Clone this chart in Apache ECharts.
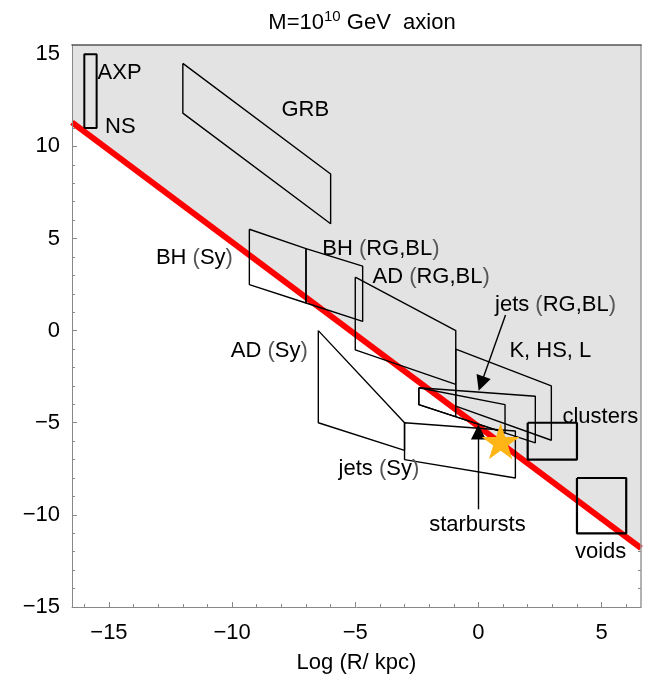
<!DOCTYPE html>
<html>
<head>
<meta charset="utf-8">
<script src="https://cdn.jsdelivr.net/npm/echarts@6/dist/echarts.min.js"></script>
<style>
  html, body { margin: 0; padding: 0; background: #fff; }
  #chart { width: 647px; height: 675px; }
</style>
</head>
<body>
<div id="chart"></div>
<script>
// Axis ranges and ticks
const xLimits = [-16.5, 6.6];
const yLimits = [-15, 15.5];
const xMajorTicks = [-15, -10, -5, 0, 5];
const xMinorTicks = [-16, -14, -13, -12, -11, -9, -8, -7, -6, -4, -3, -2, -1, 1, 2, 3, 4, 6];
const yMajorTicks = [-15, -10, -5, 0, 5, 10, 15];
const yMinorTicks = [-14, -13, -12, -11, -9, -8, -7, -6, -4, -3, -2, -1, 1, 2, 3, 4, 6, 7, 8, 9, 11, 12, 13, 14];

// Bound line: sources above it can accelerate the particles
const boundLine = [[-16.5, 11.3], [6.6, -11.8]];

// Source regions (log R, log B)
const axpNs = [[-16, 11], [-16, 15], [-15.5, 15], [-15.5, 11]];
const grb = [[-12, 14.5], [-6, 8.5], [-6, 5.8], [-12, 11.8]];
const bhSy = [[-9.3, 5.5], [-7, 4.45], [-7, 1.5], [-9.3, 2.5]];
const bhRgBl = [[-7, 4.45], [-4.7, 3.5], [-4.7, 0.5], [-7, 1.5]];
const adRgBl = [[-5, 2.9], [-0.92, 0], [-0.92, -4.65], [-0.92, -2.92], [-5, -1.05]];
const kHsL = [[-0.92, -1], [2.96, -3], [2.96, -5.95], [-0.92, -4.1]];
const jetsRgBlOuter = [[-2.42, -3.1], [2.31, -3.56], [2.31, -6.09], [-2.42, -4.02]];
const jetsRgBlInner = [[-2.42, -3.1], [1.08, -4.02], [1.08, -5.55], [-2.42, -4.02]];
const adSy = [[-6.5, 0], [-3, -5], [-3, -6.5], [-6.5, -5]];
const jetsSy = [[-3, -5], [1.5, -5.45], [1.5, -8], [-3, -7]];
const clusters = [[2, -5], [4, -5], [4, -7], [2, -7]];
const voids = [[4, -8], [6, -8], [6, -11], [4, -11]];

// Milky Way marker
const galaxy = [[0.9, -6]];

// Pointer arrows: [from, to]
const arrows = [
  [[0, -9.7], [0, -5.5]],
  [[1.1, 0.85], [0.11, -2.88]]
];

// Region names: [text, x, y]
const regionNames = [
  ['AXP', -14.57, 14.0],
  ['NS', -14.54, 11.05],
  ['GRB', -7.03, 12.0],
  ['BH (Sy)', -11.53, 3.96],
  ['BH (RG,BL)', -3.96, 4.43],
  ['AD (RG,BL)', -1.92, 2.93],
  ['jets (RG,BL)', 3.13, 1.37],
  ['K, HS, L', 2.92, -1.13],
  ['AD (Sy)', -8.49, -1.1],
  ['clusters', 4.95, -4.66],
  ['jets (Sy)', -4.04, -7.53],
  ['starbursts', -0.04, -10.55],
  ['voids', 4.96, -12.01]
];

const FONT = 'Liberation Sans, Arial, sans-serif';
const frameColor = '#888';
const minus = v => String(v).replace('-', '\u2212');

function closed(pts) {
  return pts.concat([pts[0]]);
}

function outline(pts, width) {
  return {
    type: 'line',
    data: closed(pts),
    symbol: 'none',
    silent: true,
    z: 4,
    lineStyle: { color: '#000', width: width || 1.4 },
    animation: false
  };
}

function parenRich(text) {
  return text.replace(/\(/g, '{p|(}').replace(/\)/g, '{p|)}');
}

const chart = echarts.init(document.getElementById('chart'), null, { renderer: 'canvas' });

const valueAxis = (extra) => Object.assign({
  type: 'value',
  min: 0, max: 0,
  splitLine: { show: false },
  axisLine: { show: false, onZero: false },
  axisTick: { show: false },
  axisLabel: { show: false }
}, extra);

const xAx = (extra) => valueAxis(Object.assign({ min: xLimits[0], max: xLimits[1] }, extra));
const yAx = (extra) => valueAxis(Object.assign({ min: yLimits[0], max: yLimits[1] }, extra));

const option = {
  animation: false,
  backgroundColor: '#fff',
  title: {
    text: 'M=10{s|10} GeV  axion',
    left: 357,
    top: 4,
    textAlign: 'center',
    textStyle: {
      fontFamily: FONT,
      fontSize: 22,
      fontWeight: 'normal',
      color: '#000',
      rich: {
        s: { fontFamily: FONT, fontSize: 15, color: '#000', padding: [0, 0, 12, 0] }
      }
    }
  },
  grid: { left: 72, right: 6, top: 45, bottom: 68, containLabel: false, outerBoundsMode: 'none' },
  xAxis: [
    xAx({
      position: 'bottom',
      axisTick: { show: true, inside: true, length: 5, customValues: xMajorTicks, lineStyle: { color: frameColor } },
      axisLabel: { show: true, customValues: xMajorTicks, formatter: minus, fontFamily: FONT, fontSize: 22, color: '#000', margin: 15 },
      name: 'Log (R/ kpc)',
      nameLocation: 'middle',
      nameGap: 45,
      nameTextStyle: { fontFamily: FONT, fontSize: 22, color: '#000' }
    }),
    xAx({
      position: 'bottom',
      axisTick: { show: true, inside: true, length: 3, customValues: xMinorTicks, lineStyle: { color: frameColor } }
    }),
    xAx({ position: 'bottom', z: 10, axisLine: { show: true, onZero: false, lineStyle: { color: frameColor, width: 1 } } }),
    xAx({ position: 'top', z: 10, axisLine: { show: true, onZero: false, lineStyle: { color: '#555', width: 1.5 } } })
  ],
  yAxis: [
    yAx({
      position: 'left',
      axisTick: { show: true, inside: true, length: 5, customValues: yMajorTicks, lineStyle: { color: frameColor } },
      axisLabel: { show: true, customValues: yMajorTicks, formatter: minus, fontFamily: FONT, fontSize: 22, color: '#000', margin: 12 }
    }),
    yAx({
      position: 'left',
      axisTick: { show: true, inside: true, length: 3, customValues: yMinorTicks, lineStyle: { color: frameColor } }
    }),
    yAx({
      position: 'right',
      axisTick: { show: true, inside: true, length: 3, customValues: yMinorTicks.concat(yMajorTicks), lineStyle: { color: frameColor } }
    }),
    yAx({ position: 'left', z: 10, axisLine: { show: true, onZero: false, lineStyle: { color: frameColor, width: 1 } } }),
    yAx({ position: 'right', z: 10, axisLine: { show: true, onZero: false, lineStyle: { color: '#999', width: 1.5 } } })
  ],
  series: [
    {
      // shaded region above the bound
      type: 'line',
      data: boundLine,
      symbol: 'none',
      silent: true,
      z: 1,
      lineStyle: { width: 0 },
      areaStyle: { color: '#e3e3e3', opacity: 1, origin: 'end' }
    },
    {
      type: 'line',
      data: boundLine,
      symbol: 'none',
      silent: true,
      z: 3,
      lineStyle: { color: '#ff0000', width: 6, cap: 'butt' }
    },
    outline(axpNs, 2),
    outline(grb),
    outline(bhSy),
    outline(bhRgBl),
    outline(adRgBl),
    outline(kHsL),
    outline(jetsRgBlOuter),
    outline(jetsRgBlInner),
    outline(adSy),
    outline(jetsSy),
    outline(clusters, 2.2),
    outline(voids, 2.2),
    {
      type: 'lines',
      coordinateSystem: 'cartesian2d',
      polyline: false,
      silent: true,
      z: 6,
      symbol: ['none', 'triangle'],
      symbolSize: 15,
      lineStyle: { color: '#000', width: 1.4, opacity: 1 },
      data: arrows.map(a => ({ coords: a }))
    },
    {
      type: 'scatter',
      data: galaxy,
      silent: true,
      z: 7,
      symbol: 'path://M50,0 L61.8,35.3 L98.5,35.3 L68.9,57.1 L79.9,92.5 L50,70.7 L20.1,92.5 L31.1,57.1 L1.5,35.3 L38.2,35.3 Z',
      symbolSize: [38, 36],
      itemStyle: { color: '#ffb515', opacity: 1 }
    },
    {
      type: 'scatter',
      silent: true,
      z: 8,
      symbolSize: 0,
      itemStyle: { opacity: 1 },
      data: regionNames.map(r => ({ name: r[0], value: [r[1], r[2]] })),
      label: {
        show: true,
        position: 'inside',
        formatter: p => parenRich(p.name),
        fontFamily: FONT,
        fontSize: 22,
        color: '#000',
        opacity: 1,
        rich: {
          p: { fontFamily: FONT, fontSize: 22, color: '#555' }
        }
      }
    }
  ]
};

chart.setOption(option);
</script>
</body>
</html>
